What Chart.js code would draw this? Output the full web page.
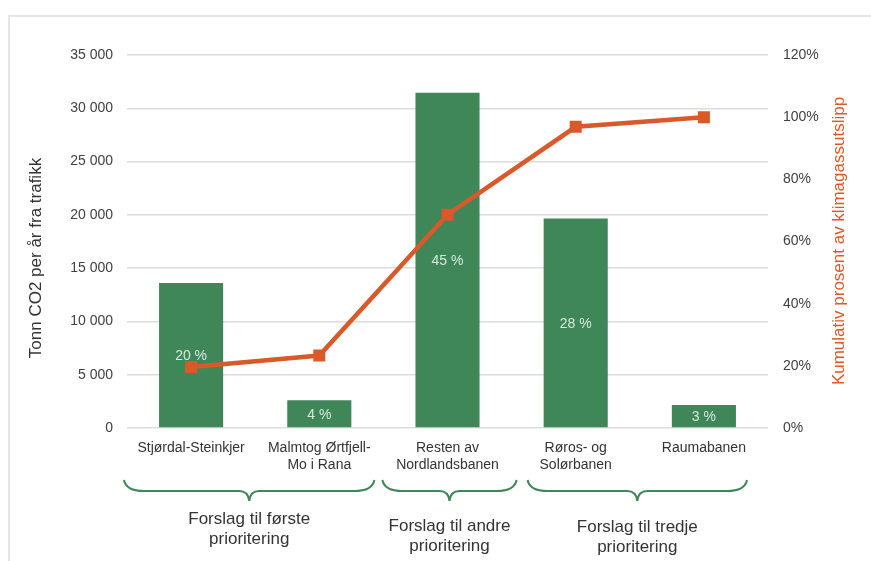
<!DOCTYPE html>
<html>
<head>
<meta charset="utf-8">
<script src="https://cdn.jsdelivr.net/npm/chart.js@4.4.0/dist/chart.umd.min.js"></script>
<style>
  html, body { margin: 0; padding: 0; background: #fff; }
  #wrap { width: 871px; height: 561px; position: relative; }
</style>
</head>
<body>
<div id="wrap"><canvas id="chart" width="871" height="561"></canvas></div>
<script>
// data
const categories = [
    ['Stjørdal-Steinkjer'],
    ['Malmtog Ørtfjell-', 'Mo i Rana'],
    ['Resten av', 'Nordlandsbanen'],
    ['Røros- og', 'Solørbanen'],
    ['Raumabanen']
];
const emissions = [13600, 2600, 31450, 19650, 2150];       // tonn CO2 per år
const shareLabels = ['20 %', '4 %', '45 %', '28 %', '3 %'];
const cumulative = [19.6, 23.3, 68.6, 96.9, 100];          // kumulativ %
const leftTicks = { min: 0, max: 35000, step: 5000 };
const rightTicks = { min: 0, max: 120, step: 20 };
const groupLabels = [
    ['Forslag til første', 'prioritering'],
    ['Forslag til andre', 'prioritering'],
    ['Forslag til tredje', 'prioritering']
];
const groupFirst = [0, 2, 3];
const groupLast = [1, 2, 4];

// styling
const FONT = "'Liberation Sans', Arial, sans-serif";
const GREEN = '#3f8659';
const ORANGE = '#d9592a';
const braceInset = [[-3, 9], [-1, -5], [16, 21]];
const groupLabelY = [519, 526, 527];

const fmtThousands = v => String(v).replace(/\B(?=(\d{3})+(?!\d))/g, ' ');

const extras = {
    id: 'extras',
    beforeDraw(chart) {
        const ctx = chart.ctx;
        ctx.save();
        ctx.fillStyle = '#e6e6e6';
        ctx.fillRect(8, 15, 2, chart.height - 15);
        ctx.fillRect(8, 15, chart.width - 8, 2);
        ctx.restore();
    },
    afterDatasetsDraw(chart) {
        const ctx = chart.ctx;
        const bars = chart.getDatasetMeta(1).data;
        ctx.save();
        // labels inside the bars
        ctx.font = '14px ' + FONT;
        ctx.fillStyle = '#d6e9dc';
        ctx.textAlign = 'center';
        ctx.textBaseline = 'middle';
        bars.forEach((bar, i) => {
            ctx.fillText(shareLabels[i], bar.x, (bar.y + bar.base) / 2 + 1);
        });
        ctx.restore();
    },
    afterDraw(chart) {
        const ctx = chart.ctx;
        const x = chart.scales.x;
        const half = (x.getPixelForValue(1) - x.getPixelForValue(0)) / 2;
        ctx.save();

        // axis titles
        ctx.font = '17px ' + FONT;
        ctx.textAlign = 'center';
        ctx.textBaseline = 'middle';
        ctx.fillStyle = '#333333';
        ctx.translate(36, 258);
        ctx.rotate(-Math.PI / 2);
        ctx.fillText('Tonn CO2 per år fra trafikk', 0, 0);
        ctx.setTransform(1, 0, 0, 1, 0, 0);
        ctx.fillStyle = ORANGE;
        ctx.translate(839, 241);
        ctx.rotate(-Math.PI / 2);
        ctx.fillText('Kumulativ prosent av klimagassutslipp', 0, 0);
        ctx.setTransform(1, 0, 0, 1, 0, 0);

        // group braces
        const top = 480, mid = 491, tip = 501;
        ctx.strokeStyle = GREEN;
        ctx.lineWidth = 2;
        groupFirst.forEach((g0, k) => {
            const x0 = x.getPixelForValue(g0) - half + braceInset[k][0];
            const x1 = x.getPixelForValue(groupLast[k]) + half - braceInset[k][1];
            const xm = (x0 + x1) / 2;
            ctx.beginPath();
            ctx.moveTo(x0, top);
            ctx.quadraticCurveTo(x0 + 2, mid, x0 + 20, mid);
            ctx.lineTo(xm - 10, mid);
            ctx.quadraticCurveTo(xm - 1, mid, xm, tip);
            ctx.quadraticCurveTo(xm + 1, mid, xm + 10, mid);
            ctx.lineTo(x1 - 20, mid);
            ctx.quadraticCurveTo(x1 - 2, mid, x1, top);
            ctx.stroke();

            ctx.font = '17px ' + FONT;
            ctx.fillStyle = '#333333';
            groupLabels[k].forEach((line, j) => {
                ctx.fillText(line, xm, groupLabelY[k] + j * 20);
            });
        });
        ctx.restore();
    }
};

new Chart(document.getElementById('chart'), {
    data: {
        labels: categories,
        datasets: [
            {
                type: 'line',
                label: 'Kumulativ',
                data: cumulative,
                yAxisID: 'y1',
                borderColor: ORANGE,
                backgroundColor: ORANGE,
                borderWidth: 4.5,
                pointStyle: 'rect',
                pointRadius: 8.5,
                pointBorderWidth: 0,
                tension: 0,
                order: 0
            },
            {
                type: 'bar',
                label: 'Tonn CO2',
                data: emissions,
                yAxisID: 'y',
                backgroundColor: GREEN,
                borderWidth: 0,
                barPercentage: 1,
                categoryPercentage: 0.5,
                order: 1
            }
        ]
    },
    options: {
        responsive: false,
        animation: false,
        layout: { padding: { top: 55, left: 0, right: 0, bottom: 0 } },
        plugins: {
            legend: { display: false },
            tooltip: { enabled: false }
        },
        scales: {
            x: {
                offset: true,
                grid: { display: false, drawTicks: false },
                border: { display: false },
                ticks: {
                    padding: 12,
                    color: '#333333',
                    font: { family: FONT, size: 14, lineHeight: 1.2 },
                    maxRotation: 0,
                    autoSkip: false
                },
                afterFit: s => { s.height = 133; }
            },
            y: {
                position: 'left',
                min: leftTicks.min,
                max: leftTicks.max,
                grid: { color: '#dcdcdc', lineWidth: 1.5, drawTicks: false },
                border: { display: false },
                ticks: {
                    stepSize: leftTicks.step,
                    padding: 14,
                    color: '#404040',
                    font: { family: FONT, size: 14 },
                    callback: v => fmtThousands(v)
                },
                afterFit: s => { s.width = 127; }
            },
            y1: {
                position: 'right',
                min: rightTicks.min,
                max: rightTicks.max,
                grid: { display: false, drawTicks: false },
                border: { display: false },
                ticks: {
                    stepSize: rightTicks.step,
                    padding: 15,
                    color: '#404040',
                    font: { family: FONT, size: 14 },
                    callback: v => v + '%'
                },
                afterFit: s => { s.width = 103; }
            }
        }
    },
    plugins: [extras]
});
</script>
</body>
</html>
